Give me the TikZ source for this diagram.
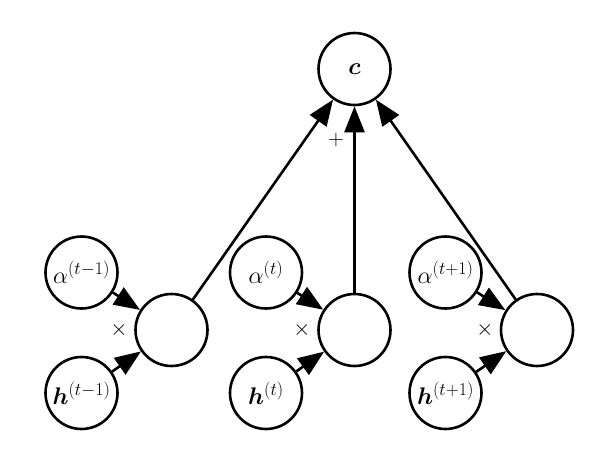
\RequirePackage{fix-cm}
\documentclass[tikz,border=0pt]{standalone}
\usepackage{amsmath}
\usepackage{bm}
\DeclareMathSizes{24}{24}{18}{14}
\usetikzlibrary{arrows.meta}
\begin{document}
\begin{tikzpicture}[x=1pt,y=-1pt,
  unit/.style={circle,draw,line width=2.6pt,minimum size=72pt,inner sep=0pt,font=\fontsize{24}{29}\selectfont},
  conn/.style={line width=2.6pt,-{Triangle[length=26pt,width=20pt]}},
  oplabel/.style={font=\fontsize{22}{26}\selectfont}]
\useasboundingbox (0,0) rectangle (600,451);
\node[unit] (c) at (354.5,69) {$\bm{c}$};
\node[unit] (a1) at (81.5,272.5) {$\alpha^{(t-1)}$};
\node[unit] (m1) at (171.5,330) {};
\node[unit] (h1) at (81.5,393) {$\bm{h}^{(t-1)}$};
\node[unit] (a2) at (266,272.5) {$\alpha^{(t)}$};
\node[unit] (m2) at (354.5,330) {};
\node[unit] (h2) at (266,393) {$\bm{h}^{(t)}$};
\node[unit] (a3) at (445.5,272.5) {$\alpha^{(t+1)}$};
\node[unit] (m3) at (537,330) {};
\node[unit] (h3) at (445.5,393) {$\bm{h}^{(t+1)}$};
\draw[conn] (a1) -- (m1);
\draw[conn] (h1) -- (m1);
\draw[conn] (a2) -- (m2);
\draw[conn] (h2) -- (m2);
\draw[conn] (a3) -- (m3);
\draw[conn] (h3) -- (m3);
\draw[conn] (m1) -- (c);
\draw[conn] (m2) -- (c);
\draw[conn] (m3) -- (c);
\node[oplabel] (x1) at (119,330) {$\times$};
\node[oplabel] (x2) at (302,330) {$\times$};
\node[oplabel] (x3) at (485,330) {$\times$};
\node[oplabel] (plus) at (336,140) {$+$};
\end{tikzpicture}
\end{document}
